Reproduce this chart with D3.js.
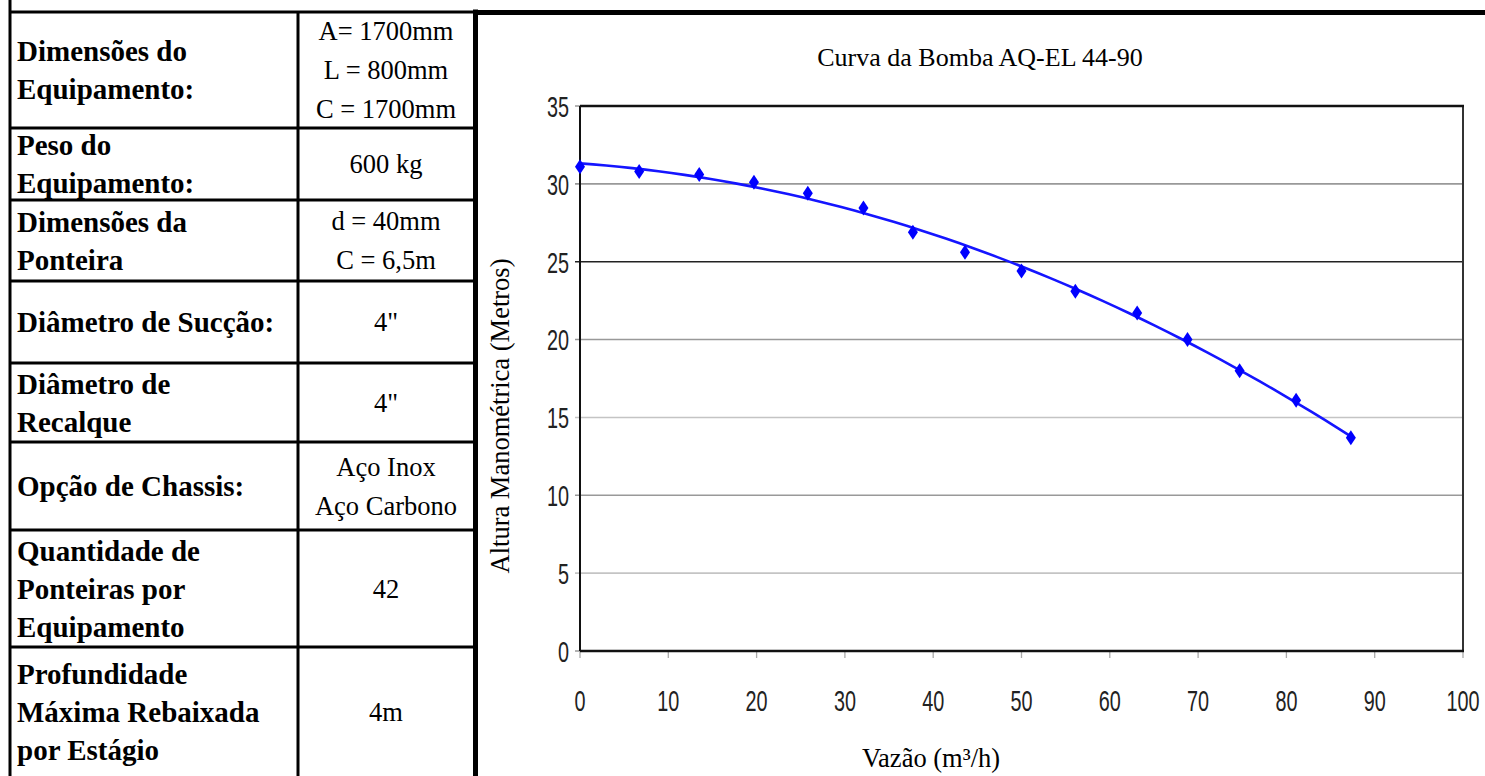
<!DOCTYPE html>
<html>
<head>
<meta charset="utf-8">
<script src="https://cdnjs.cloudflare.com/ajax/libs/d3/7.8.5/d3.min.js"></script>
<style>
body { margin: 0; background: #fff; }
text { font-family: "Liberation Serif", "Times New Roman", serif; fill: #000; }
.lbl { font-weight: bold; font-size: 29px; }
.val { font-size: 26.5px; }
.tick-label { font-family: "Liberation Sans", Arial, sans-serif; font-size: 30px; fill: #222; }
</style>
</head>
<body>
<div id="container"></div>
<script>
// spec table
const specLabels = [
    ["Dimensões do", "Equipamento:"],
    ["Peso do", "Equipamento:"],
    ["Dimensões da", "Ponteira"],
    ["Diâmetro de Sucção:"],
    ["Diâmetro de", "Recalque"],
    ["Opção de Chassis:"],
    ["Quantidade de", "Ponteiras por", "Equipamento"],
    ["Profundidade", "Máxima Rebaixada", "por Estágio"]
];
const specValues = [
    ["A= 1700mm", "L = 800mm", "C = 1700mm"],
    ["600 kg"],
    ["d = 40mm", "C = 6,5m"],
    ["4\""],
    ["4\""],
    ["Aço Inox", "Aço Carbono"],
    ["42"],
    ["4m"]
];

// pump curve points
const flow = [0, 6.7, 13.5, 19.7, 25.8, 32.1, 37.7, 43.6, 50.0, 56.1, 63.1, 68.8, 74.7, 81.1, 87.3];
const head = [31.1, 30.8, 30.6, 30.1, 29.4, 28.45, 26.9, 25.6, 24.4, 23.1, 21.7, 20.0, 18.0, 16.1, 13.7];

const xTicks = [0, 10, 20, 30, 40, 50, 60, 70, 80, 90, 100];
const yTicks = [0, 5, 10, 15, 20, 25, 30, 35];

const chartTitle = "Curva da Bomba AQ-EL 44-90";
const xTitle = "Vazão (m³/h)";
const yTitle = "Altura Manométrica (Metros)";

const W = 1485, H = 776;
const rowHeights = [116, 72, 81, 82, 79, 88, 117, 129];
const tableTop = 12, tableLeft = 10, colSplit = 298, tableRight = 474;

const svg = d3.select("#container").append("svg")
    .attr("width", W)
    .attr("height", H);

svg.append("rect").attr("width", W).attr("height", H).attr("fill", "#fff");

// ---- table ----
const rowTops = [tableTop];
rowHeights.forEach((h, i) => rowTops.push(rowTops[i] + h));

const rows = svg.selectAll("g.row").data(specLabels).enter()
    .append("g")
    .attr("class", "row");

rows.each(function(lines, i) {
    const g = d3.select(this);
    const mid = rowTops[i] + rowHeights[i] / 2;
    const lh = 38;
    g.selectAll("text.lbl").data(lines).enter()
        .append("text")
        .attr("class", "lbl")
        .attr("x", 17)
        .attr("y", (d, j) => mid + (j - (lines.length - 1) / 2) * lh)
        .attr("dy", "0.35em")
        .text(d => d);
    const vals = specValues[i];
    g.selectAll("text.val").data(vals).enter()
        .append("text")
        .attr("class", "val")
        .attr("x", (colSplit + tableRight) / 2)
        .attr("text-anchor", "middle")
        .attr("y", (d, j) => mid + (j - (vals.length - 1) / 2) * 39)
        .attr("dy", "0.35em")
        .text(d => d);
});

svg.selectAll("line.rowline").data(rowTops.slice(0, -1)).enter()
    .append("line")
    .attr("x1", tableLeft).attr("x2", tableRight)
    .attr("y1", d => d).attr("y2", d => d)
    .attr("stroke", "#000").attr("stroke-width", 3);

svg.append("line")
    .attr("x1", tableLeft).attr("x2", tableLeft)
    .attr("y1", 0).attr("y2", H)
    .attr("stroke", "#000").attr("stroke-width", 3);
svg.append("line")
    .attr("x1", colSplit).attr("x2", colSplit)
    .attr("y1", tableTop).attr("y2", H)
    .attr("stroke", "#000").attr("stroke-width", 3);
svg.append("line")
    .attr("x1", tableRight + 1.5).attr("x2", tableRight + 1.5)
    .attr("y1", tableTop - 2.5).attr("y2", H)
    .attr("stroke", "#000").attr("stroke-width", 5);
svg.append("line")
    .attr("x1", tableRight).attr("x2", W)
    .attr("y1", tableTop + 0.5).attr("y2", tableTop + 0.5)
    .attr("stroke", "#000").attr("stroke-width", 5);

// ---- chart ----
const x = d3.scaleLinear().domain([0, 100]).range([580, 1463]);
const y = d3.scaleLinear().domain([0, 35]).range([651, 106]);

const gridColor = v => v === 25 ? "#222" : (v % 10 === 0 ? "#999" : "#c4c4c4");

svg.selectAll("line.grid").data(yTicks.filter(d => d > 0 && d < 35)).enter()
    .append("line")
    .attr("x1", x(0) - 5).attr("x2", x(100))
    .attr("y1", d => y(d)).attr("y2", d => y(d))
    .attr("stroke", gridColor)
    .attr("stroke-width", 1.6);

// y ticks at ends
svg.selectAll("line.yt").data([0, 35]).enter()
    .append("line")
    .attr("x1", x(0) - 5).attr("x2", x(0))
    .attr("y1", d => y(d)).attr("y2", d => y(d))
    .attr("stroke", "#999").attr("stroke-width", 1.5);

// x ticks
svg.selectAll("line.xt").data(xTicks).enter()
    .append("line")
    .attr("x1", d => x(d)).attr("x2", d => x(d))
    .attr("y1", y(0)).attr("y2", y(0) + 7)
    .attr("stroke", "#aaa").attr("stroke-width", 1.3);

// plot frame
svg.append("line").attr("x1", x(100)).attr("x2", x(100)).attr("y1", y(35)).attr("y2", y(0))
    .attr("stroke", "#333").attr("stroke-width", 2);
svg.append("line").attr("x1", x(0)).attr("x2", x(0)).attr("y1", y(35)).attr("y2", y(0))
    .attr("stroke", "#111").attr("stroke-width", 2);
svg.append("line").attr("x1", x(0)).attr("x2", x(100) + 1).attr("y1", y(35)).attr("y2", y(35))
    .attr("stroke", "#111").attr("stroke-width", 2.5);
svg.append("line").attr("x1", x(0)).attr("x2", x(100) + 1).attr("y1", y(0)).attr("y2", y(0))
    .attr("stroke", "#111").attr("stroke-width", 2.5);

// tick labels, condensed like the narrow face of the original
const narrow = 0.66;
svg.selectAll("text.ylab").data(yTicks).enter()
    .append("text")
    .attr("class", "tick-label")
    .attr("transform", d => "translate(" + (x(0) - 11) + "," + y(d) + ") scale(" + narrow + ",1)")
    .attr("dy", "0.36em")
    .attr("text-anchor", "end")
    .text(d => d);

svg.selectAll("text.xlab").data(xTicks).enter()
    .append("text")
    .attr("class", "tick-label")
    .attr("transform", d => "translate(" + x(d) + ",700) scale(" + narrow + ",1)")
    .attr("dy", "0.36em")
    .attr("text-anchor", "middle")
    .text(d => d);

// polynomial (2nd order) trendline fitted to the points, like the spreadsheet trendline
function polyfit2(xs, ys) {
    const s = [0, 0, 0, 0, 0], t = [0, 0, 0];
    xs.forEach((xv, i) => {
        for (let k = 0; k < 5; k++) s[k] += Math.pow(xv, k);
        for (let k = 0; k < 3; k++) t[k] += ys[i] * Math.pow(xv, k);
    });
    const A = [[s[0], s[1], s[2], t[0]], [s[1], s[2], s[3], t[1]], [s[2], s[3], s[4], t[2]]];
    for (let c = 0; c < 3; c++) {
        for (let r = c + 1; r < 3; r++) {
            const f = A[r][c] / A[c][c];
            for (let k = c; k < 4; k++) A[r][k] -= f * A[c][k];
        }
    }
    const b = [0, 0, 0];
    for (let r = 2; r >= 0; r--) {
        let v = A[r][3];
        for (let k = r + 1; k < 3; k++) v -= A[r][k] * b[k];
        b[r] = v / A[r][r];
    }
    return b;
}
const coef = polyfit2(flow, head);
const trendX = d3.range(0, 60).map(i => d3.max(flow) * i / 59);
const trend = trendX.map(v => [v, coef[0] + coef[1] * v + coef[2] * v * v]);

svg.append("path")
    .datum(trend)
    .attr("fill", "none")
    .attr("stroke", "#1515ff")
    .attr("stroke-width", 2.6)
    .attr("d", d3.line().x(d => x(d[0])).y(d => y(d[1])));

svg.selectAll("path.pt").data(flow).enter()
    .append("path")
    .attr("class", "pt")
    .attr("transform", (d, i) => "translate(" + x(d) + "," + y(head[i]) + ")")
    .attr("d", "M0,-7.5L5,0L0,7.5L-5,0Z")
    .attr("fill", "#0000ff");

// titles
svg.append("text")
    .attr("x", 980).attr("y", 57)
    .attr("dy", "0.35em")
    .attr("text-anchor", "middle")
    .style("font-size", "26px")
    .text(chartTitle);

svg.append("text")
    .attr("x", 931).attr("y", 758)
    .attr("dy", "0.35em")
    .attr("text-anchor", "middle")
    .style("font-size", "26.5px")
    .text(xTitle);

svg.append("text")
    .attr("transform", "translate(500,416) rotate(-90)")
    .attr("dy", "0.35em")
    .attr("text-anchor", "middle")
    .style("font-size", "26.5px")
    .text(yTitle);
</script>
</body>
</html>
